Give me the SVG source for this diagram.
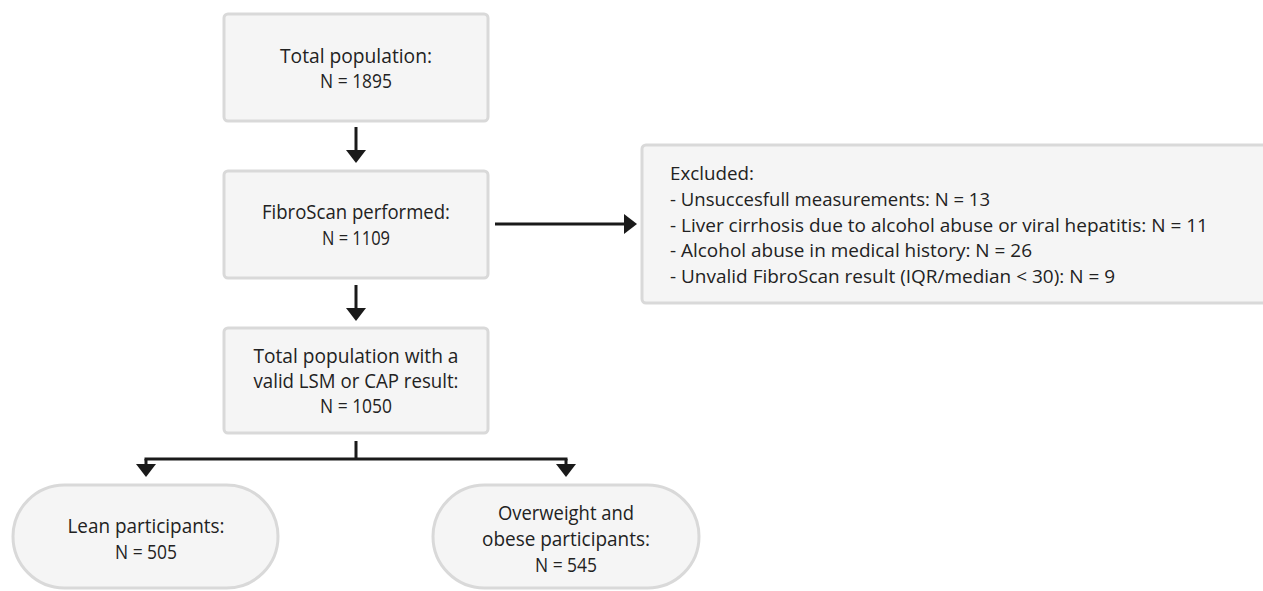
<svg xmlns="http://www.w3.org/2000/svg" width="1263" height="591" viewBox="0 0 1263 591">
<defs>
<style>
.box{fill:#f5f5f5;stroke:#d9d9d9;stroke-width:3}
.t{font-family:"Open Sans","Noto Sans",sans-serif;font-size:20px;fill:#222222;text-anchor:middle}
.e{font-family:"Open Sans","Noto Sans",sans-serif;font-size:19px;fill:#222222}
.c{fill:none;stroke:#1a1a1a;stroke-width:3}
</style>
<marker id="ah" viewBox="0 0 13 20" markerWidth="13" markerHeight="20" markerUnits="userSpaceOnUse" refX="3" refY="10" orient="auto">
<path d="M0,0 L13,10 L0,20 Z" fill="#1a1a1a"/>
</marker>
</defs>
<rect width="1263" height="591" fill="#ffffff"/>
<g id="connectors">
<path class="c" d="M356,127 V153" marker-end="url(#ah)"/>
<path class="c" d="M356,285 V311" marker-end="url(#ah)"/>
<path class="c" d="M495,224 H627" marker-end="url(#ah)"/>
<path class="c" d="M356,441 V459 M144.5,459 H567.5"/>
<path class="c" d="M146,459 V467" marker-end="url(#ah)"/>
<path class="c" d="M566,459 V467" marker-end="url(#ah)"/>
</g>
<g id="total">
<rect class="box" x="224" y="14" width="264" height="107" rx="4"/>
<text class="t" x="356" y="63" textLength="152" lengthAdjust="spacingAndGlyphs">Total population:</text>
<text class="t" x="356" y="88" textLength="72" lengthAdjust="spacingAndGlyphs">N = 1895</text>
</g>
<g id="fibroscan">
<rect class="box" x="224" y="171" width="264" height="107" rx="4"/>
<text class="t" x="356" y="219" textLength="188" lengthAdjust="spacingAndGlyphs">FibroScan performed:</text>
<text class="t" x="356" y="245" textLength="68" lengthAdjust="spacingAndGlyphs">N = 1109</text>
</g>
<g id="excluded">
<rect class="box" x="642" y="145" width="640" height="158" rx="4"/>
<text class="e" x="670" y="180" textLength="84" lengthAdjust="spacingAndGlyphs">Excluded:</text>
<text class="e" x="670" y="206" textLength="320" lengthAdjust="spacingAndGlyphs">- Unsuccesfull measurements: N = 13</text>
<text class="e" x="670" y="232" textLength="538" lengthAdjust="spacingAndGlyphs">- Liver cirrhosis due to alcohol abuse or viral hepatitis: N = 11</text>
<text class="e" x="670" y="257" textLength="362" lengthAdjust="spacingAndGlyphs">- Alcohol abuse in medical history: N = 26</text>
<text class="e" x="670" y="283" textLength="445" lengthAdjust="spacingAndGlyphs">- Unvalid FibroScan result (IQR/median &lt; 30): N = 9</text>
</g>
<g id="valid">
<rect class="box" x="224" y="328" width="264" height="105" rx="4"/>
<text class="t" x="356" y="363" textLength="205" lengthAdjust="spacingAndGlyphs">Total population with a</text>
<text class="t" x="356" y="388" textLength="205" lengthAdjust="spacingAndGlyphs">valid LSM or CAP result:</text>
<text class="t" x="356" y="413" textLength="72" lengthAdjust="spacingAndGlyphs">N = 1050</text>
</g>
<g id="lean">
<rect class="box" x="13" y="485" width="265" height="103" rx="51.5"/>
<text class="t" x="146" y="533" textLength="157" lengthAdjust="spacingAndGlyphs">Lean participants:</text>
<text class="t" x="146" y="559" textLength="62" lengthAdjust="spacingAndGlyphs">N = 505</text>
</g>
<g id="overweight">
<rect class="box" x="433" y="485" width="266" height="103" rx="51.5"/>
<text class="t" x="566" y="520" textLength="136" lengthAdjust="spacingAndGlyphs">Overweight and</text>
<text class="t" x="566" y="546" textLength="168" lengthAdjust="spacingAndGlyphs">obese participants:</text>
<text class="t" x="566" y="572" textLength="62" lengthAdjust="spacingAndGlyphs">N = 545</text>
</g>
</svg>
